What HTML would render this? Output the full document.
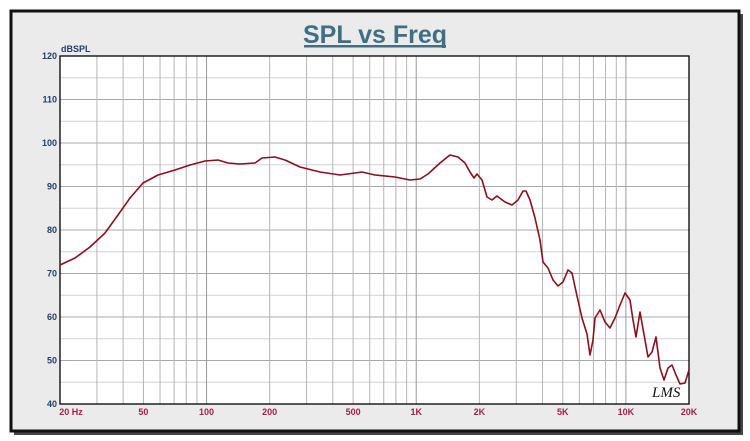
<!DOCTYPE html>
<html><head><meta charset="utf-8">
<style>
html,body{margin:0;padding:0;background:#fff;}
svg{display:block;}
</style></head>
<body>
<svg id="s" width="750" height="441" xmlns="http://www.w3.org/2000/svg" font-family="Liberation Sans, Arial, sans-serif">
<rect x="0" y="0" width="750" height="441" fill="#fff"/>
<rect x="14" y="14" width="729" height="421" fill="#444"/>
<rect x="11" y="11" width="728" height="420" fill="#ebebeb" stroke="#111" stroke-width="3"/>
<text x="375" y="43" text-anchor="middle" font-size="25" font-weight="bold" fill="#3f6f84">SPL vs Freq</text>
<rect x="304" y="45" width="142" height="2.5" fill="#3f6f84"/>
<rect x="60" y="56" width="629" height="348" fill="#fff"/>
<g id="grid"></g>
<rect x="60" y="56" width="629" height="348" fill="none" stroke="#000" stroke-width="1.3"/>
<text x="61" y="52" font-size="9" font-weight="bold" fill="#1f3f6a">dBSPL</text>
<g id="yl" font-size="9" font-weight="bold" fill="#1f3f6a" text-anchor="end"></g>
<g id="xl" font-size="9" font-weight="bold" fill="#a3204c" text-anchor="middle"></g>
<polyline fill="none" stroke="#8a1020" stroke-width="1.6" stroke-linejoin="round" points="60,265 75,258 90,247 105,233 118,215 130,198 143,183 158,175 175,170 190,165 205,161 218,160 228,163 240,164 255,163 262,158 275,157 285,160 300,167 320,172 340,175 355,173 362,172 375,175 395,177 410,180 420,179 428,174 440,163 450,155 458,157 465,163 470,172 474,178 477,174 482,180 487,197 492,200 497,196 505,202 512,205 518,200 523,191 526,191 530,200 535,218 540,240 543,262 548,268 553,280 558,286 563,282 568,270 572,273 577,296 582,318 587,334 590,355 593,340 595,318 600,310 605,322 610,328 615,318 620,305 625,293 630,300 633,320 636,337 640,312 645,340 648,357 652,352 656,337 660,368 664,380 668,368 672,365 676,375 680,384 685,383 689,370"/>
<text x="652" y="397" font-size="15" font-style="italic" fill="#111" font-family="Liberation Serif, serif">LMS</text>
</svg>
<script>
(function(){
var NS="http://www.w3.org/2000/svg";
var g=document.getElementById("grid"),yl=document.getElementById("yl"),xl=document.getElementById("xl");
function el(p,t,a){var e=document.createElementNS(NS,t);for(var k in a)e.setAttribute(k,a[k]);p.appendChild(e);return e;}
function X(f){return 60+209.67*Math.log10(f/20);}
for(var i=0;i<=16;i++){var y=56+i*21.75;
 el(g,"line",{x1:60,x2:689,y1:y,y2:y,stroke:i%2?"#d2d2d2":"#a8a8a8","stroke-width":1});}
for(var d=10;d<=10000;d*=10){for(var m=1;m<10;m++){var f=d*m;if(f<20||f>20000)continue;var x=X(f);
 el(g,"line",{x1:x,x2:x,y1:56,y2:404,stroke:(m==1)?"#999":"#b4b4b4","stroke-width":1});}}
for(var i=0;i<=8;i++){var t=el(yl,"text",{x:57,y:56+i*43.5+3});t.textContent=120-i*10;}
var L=[[20,"20  Hz"],[50,"50"],[100,"100"],[200,"200"],[500,"500"],[1000,"1K"],[2000,"2K"],[5000,"5K"],[10000,"10K"],[20000,"20K"]];
L.forEach(function(l){var x=X(l[0]);if(l[0]==20)x=71;var t=el(xl,"text",{x:x,y:415});t.textContent=l[1];});
})();
</script>
</body></html>
